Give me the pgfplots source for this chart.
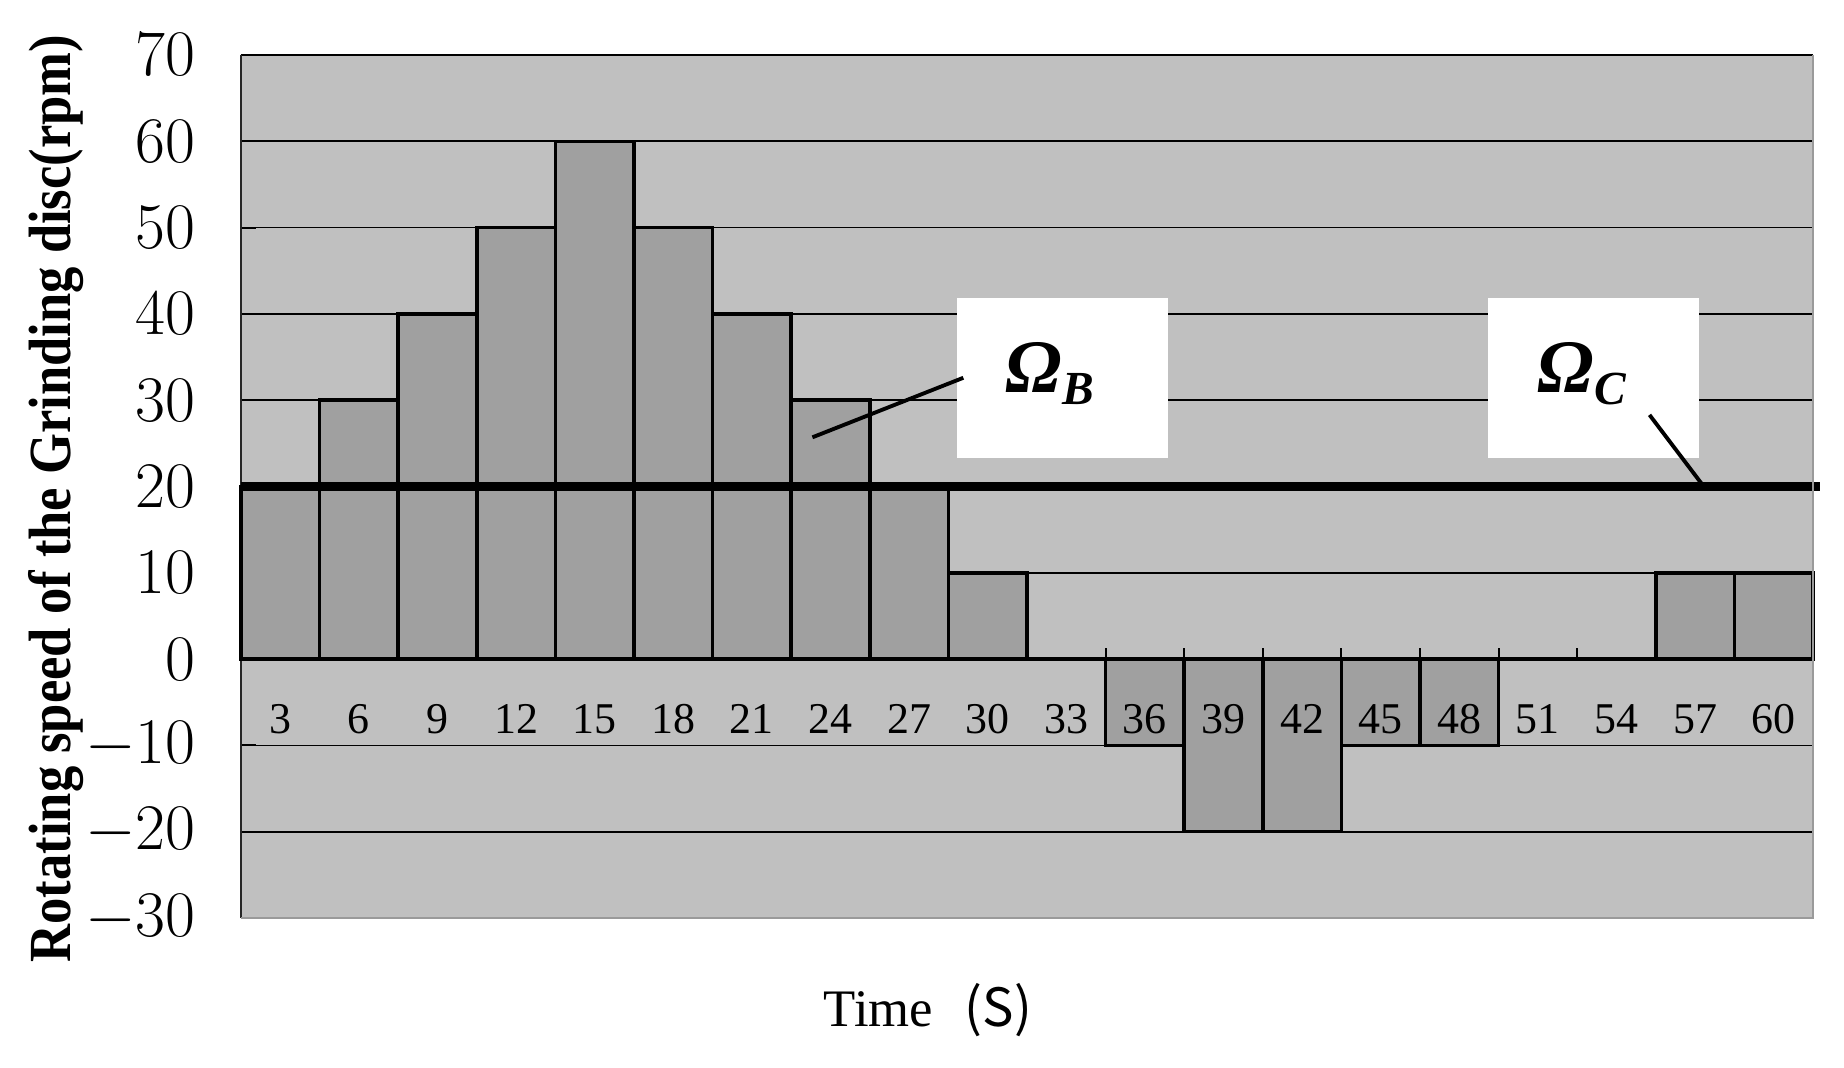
\documentclass[border=0pt]{standalone}
\usepackage{fix-cm}
\usepackage{pgfplots}
\pgfplotsset{compat=1.18}
\usepackage[no-math]{fontspec}
\setmainfont{Liberation Serif}
\newfontfamily\labelfont[FakeStretch=0.88]{Liberation Serif}
\newfontfamily\cjk{Noto Sans CJK SC}
\definecolor{plotbg}{HTML}{C0C0C0}
\definecolor{barfill}{HTML}{A0A0A0}
\definecolor{framegray}{HTML}{9A9A9A}

% tick labels above the bars
\pgfplotsset{
    layers/labels on top/.define layer set={
        axis background,axis grid,axis ticks,axis lines,pre main,main,
        axis tick labels,axis descriptions,axis foreground
    }{
        grid style={/pgfplots/on layer=axis grid},
        tick style={/pgfplots/on layer=axis ticks},
        axis line style={/pgfplots/on layer=axis lines},
        label style={/pgfplots/on layer=axis descriptions},
        legend style={/pgfplots/on layer=axis descriptions},
        title style={/pgfplots/on layer=axis descriptions},
        colorbar style={/pgfplots/on layer=axis descriptions},
        ticklabel style={/pgfplots/on layer=axis tick labels},
        axis background@ style={/pgfplots/on layer=axis background},
        3d box foreground style={/pgfplots/on layer=axis foreground},
    },
}

\begin{document}
\begin{tikzpicture}
\begin{axis}[
    set layers=labels on top,
    width=15.72cm, height=8.63cm, scale only axis,
    xmin=-0.5, xmax=19.5, ymin=-30, ymax=70,
    axis x line=middle, axis y line=left,
    axis line style={-},
    x axis line style={black, line width=0.8pt},
    y axis line style={black!85, line width=0.8pt},
    axis background/.style={fill=plotbg},
    clip=false,
    ytick={-30,-20,...,70},
    ymajorgrids, major grid style={black, line width=0.5pt},
    yticklabel={$\pgfmathprintnumber{\tick}$},
    yticklabel style={font=\fontsize{18.5}{22}\selectfont, xshift=-0.33cm},
    tick align=inside, major tick length=0.15cm, minor tick length=0.11cm,
    tick style={black, line width=0.6pt},
    xtick={0,...,19},
    xticklabels={3,6,9,12,15,18,21,24,27,30,33,36,39,42,45,48,51,54,57,60},
    xticklabel style={font=\fontsize{12.5}{15}\selectfont, anchor=center, yshift=-0.6cm},
    xtick style={draw=none},
    minor x tick num=1,
    minor x tick style={draw=black, line width=0.6pt},
]
% rotating speed per 3 s interval
\addplot[ybar, bar width=1, fill=barfill, draw=black, line width=1pt] coordinates {
    (0,20) (1,30) (2,40) (3,50) (4,60) (5,50) (6,40) (7,30) (8,20) (9,10)
    (10,0) (11,-10) (12,-20) (13,-20) (14,-10) (15,-10) (16,0) (17,0) (18,10) (19,10)
};
% Omega_C level
\addplot[black, line width=2.3pt] coordinates {(-0.5,20) (19.59,20)};

\draw[framegray, line width=0.8pt] (rel axis cs:1,1) -- (rel axis cs:1,0) -- (rel axis cs:0,0);

\fill[white] (axis cs:8.61,23.3) rectangle (axis cs:11.30,41.9);
\fill[white] (axis cs:15.36,23.3) rectangle (axis cs:18.05,41.9);
\draw[line width=1.1pt] (axis cs:6.77,25.7) -- (axis cs:8.69,32.6);
\draw[line width=1.1pt] (axis cs:17.42,28.3) -- (axis cs:18.11,20);
\node at (axis cs:9.79,33.1) {\fontsize{21.5}{24}\selectfont\bfseries\itshape Ω\raisebox{-0.35ex}{\fontsize{13.5}{15}\selectfont B}};
\node at (axis cs:16.56,33.1) {\fontsize{21.5}{24}\selectfont\bfseries\itshape Ω\raisebox{-0.35ex}{\fontsize{13.5}{15}\selectfont C}};

\node[rotate=90, font=\labelfont\bfseries\fontsize{17}{20}\selectfont] at (rel axis cs:-0.1177,0.486) {Rotating speed of the Grinding disc(rpm)};
\node[font=\fontsize{15}{18}\selectfont] at (rel axis cs:0.437,-0.1066) {Time\hspace{0.6em}{\cjk (S)}};
\end{axis}
\path (-2.41,-1.49) rectangle (16.03,9.18);
\end{tikzpicture}
\end{document}
